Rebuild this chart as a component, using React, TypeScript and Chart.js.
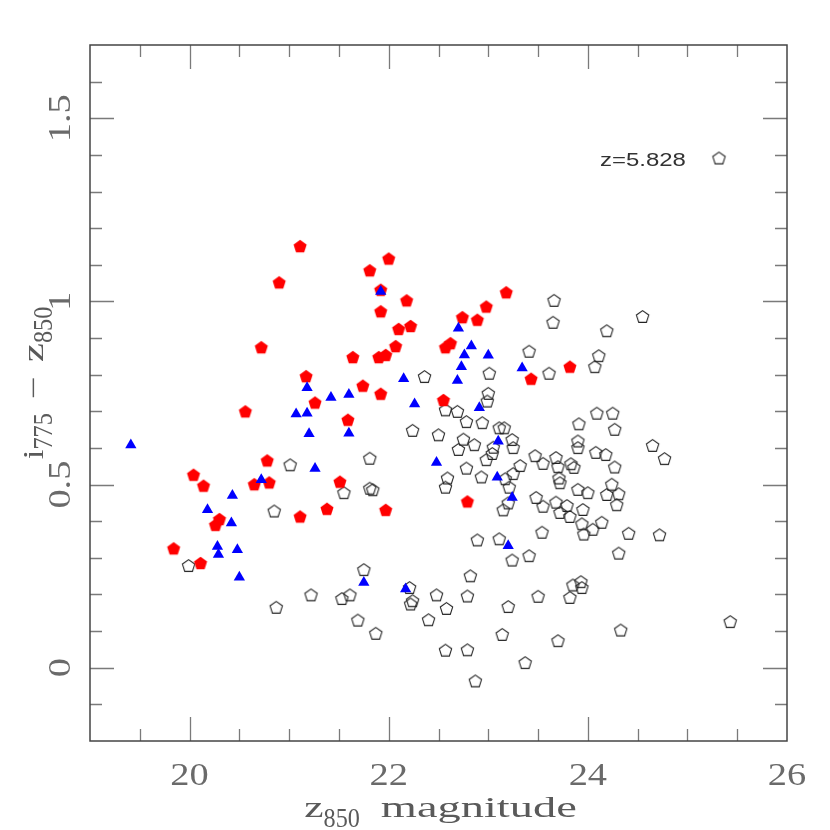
import React, { useEffect, useRef } from 'react';
import { Chart, registerables } from 'chart.js';

Chart.register(...registerables);

// ---- axis ranges & ticks ----
const X_MIN = 19;
const X_MAX = 26;
const Y_MIN = -0.2;
const Y_MAX = 1.7;
const xTickValues = [20, 22, 24, 26];
const xTickLabels = ['20', '22', '24', '26'];
const yTickValues = [0, 0.5, 1, 1.5];
const yTickLabels = ['0', '0.5', '1', '1.5'];
const legendLabel = 'z=5.828';

// ---- red filled pentagons ----
const redX = [21.11, 20.90, 20.72, 21.17, 21.26, 20.56, 20.78, 20.04, 20.14, 20.65, 20.80, 21.38, 21.11, 20.30, 20.26, 19.84, 20.11,
  22.00, 21.81, 21.92, 22.18, 21.92, 22.10, 22.22, 23.18, 22.98, 22.74, 22.89, 22.07, 22.62, 22.57, 21.64, 21.90, 21.97, 23.43, 21.74,
  21.92, 22.55, 21.59, 21.51, 21.97, 22.79, 23.82];
const redY = [1.151, 1.052, 0.875, 0.796, 0.724, 0.700, 0.566, 0.527, 0.497, 0.501, 0.506, 0.434, 0.413, 0.406, 0.390, 0.326, 0.286,
  1.117, 1.085, 1.032, 1.003, 0.973, 0.925, 0.933, 1.025, 0.986, 0.957, 0.950, 0.878, 0.886, 0.875, 0.848, 0.848, 0.854, 0.789, 0.770,
  0.748, 0.731, 0.677, 0.508, 0.431, 0.454, 0.822];

// ---- blue filled triangles ----
const blueX = [19.41, 21.18, 21.42, 21.07, 21.18, 21.20, 21.26, 20.72, 20.43, 20.18, 20.42, 20.28, 20.29, 20.48, 20.50, 21.92, 22.70,
  22.83, 22.76, 23.00, 22.73, 23.34, 22.15, 22.69, 21.60, 22.26, 22.91, 21.60, 23.10, 22.48, 23.09, 23.24, 23.20, 21.75, 22.17];
const blueY = [0.608, 0.764, 0.738, 0.693, 0.695, 0.639, 0.544, 0.513, 0.470, 0.431, 0.395, 0.331, 0.309, 0.322, 0.247, 1.027, 0.927,
  0.878, 0.854, 0.853, 0.822, 0.818, 0.789, 0.784, 0.746, 0.720, 0.710, 0.640, 0.618, 0.560, 0.520, 0.465, 0.333, 0.233, 0.215];

// ---- open pentagons (z=5.828) ----
const openX = [21.01, 20.85, 19.99, 21.22, 20.87, 23.66, 23.65, 23.41, 23.61, 23.01, 22.36, 23.00, 22.99, 22.57, 22.69, 22.78, 22.94,
  23.11, 23.16, 22.24, 22.50, 22.75, 22.86, 22.70, 23.05, 23.04, 22.98, 23.24, 23.25, 21.81, 22.78, 23.47, 23.55, 23.68, 23.32, 23.25,
  23.70, 22.59, 22.57, 22.93, 23.17, 23.21, 23.20, 23.15, 21.55, 21.81, 21.84, 22.89, 23.11, 23.24, 23.41, 23.54, 21.75, 21.61, 21.53,
  21.69, 21.87, 22.21, 22.24, 22.22, 22.48, 22.58, 22.40, 22.82, 22.79, 22.57, 22.79, 22.87, 23.20, 23.14, 23.50, 23.37, 23.70, 24.55,
  24.19, 24.11, 24.07, 24.09, 24.25, 24.27, 23.91, 23.90, 23.90, 24.08, 24.18, 24.65, 24.77, 24.27, 23.83, 23.86, 23.71, 23.72, 23.90,
  24.00, 24.24, 24.19, 24.31, 24.29, 23.48, 23.55, 23.68, 23.79, 23.72, 23.82, 23.95, 23.94, 23.96, 24.05, 24.14, 24.41, 24.72, 24.31,
  23.93, 23.85, 23.94, 23.82, 25.43, 24.33];
const openY = [0.554, 0.428, 0.279, 0.199, 0.165, 1.003, 0.943, 0.864, 0.804, 0.804, 0.795, 0.749, 0.728, 0.704, 0.700, 0.672, 0.669,
  0.655, 0.655, 0.648, 0.636, 0.624, 0.609, 0.596, 0.602, 0.585, 0.568, 0.623, 0.601, 0.572, 0.545, 0.579, 0.558, 0.574, 0.552, 0.530,
  0.549, 0.518, 0.493, 0.521, 0.516, 0.493, 0.450, 0.431, 0.478, 0.490, 0.486, 0.349, 0.352, 0.294, 0.306, 0.370, 0.268, 0.199, 0.189,
  0.130, 0.094, 0.219, 0.183, 0.174, 0.199, 0.162, 0.131, 0.251, 0.196, 0.048, 0.049, -0.036, 0.167, 0.091, 0.195, 0.014, 0.074, 0.959,
  0.920, 0.852, 0.822, 0.695, 0.695, 0.651, 0.666, 0.619, 0.601, 0.588, 0.582, 0.607, 0.571, 0.548, 0.557, 0.547, 0.518, 0.505, 0.487,
  0.478, 0.501, 0.473, 0.475, 0.445, 0.465, 0.441, 0.452, 0.443, 0.424, 0.413, 0.432, 0.393, 0.365, 0.378, 0.397, 0.367, 0.363, 0.313,
  0.235, 0.226, 0.219, 0.192, 0.126, 0.103];

const zip = (xs: number[], ys: number[]) => xs.map((x, i) => ({ x, y: ys[i] }));

function makePentagon(R: number, fill: string | null, stroke: string | null, lw: number): HTMLCanvasElement {
  const size = Math.ceil(2 * R + 6);
  const c = document.createElement('canvas');
  c.width = size;
  c.height = size;
  const g = c.getContext('2d')!;
  const cx = size / 2;
  const cy = size / 2 + R * 0.09;
  g.beginPath();
  for (let k = 0; k < 5; k++) {
    const a = -Math.PI / 2 + (k * 2 * Math.PI) / 5;
    const px = cx + R * Math.cos(a);
    const py = cy + R * Math.sin(a);
    if (k === 0) g.moveTo(px, py);
    else g.lineTo(px, py);
  }
  g.closePath();
  if (fill) {
    g.fillStyle = fill;
    g.fill();
  }
  if (stroke) {
    g.strokeStyle = stroke;
    g.lineWidth = lw;
    g.stroke();
  }
  return c;
}

type Seg = { text: string; size: number; sx: number; sy?: number; dy?: number; gap?: number; family?: string };

function drawRich(ctx: CanvasRenderingContext2D, segs: Seg[], x0: number, y0: number, rot: number) {
  let total = 0;
  const widths: number[] = [];
  for (const s of segs) {
    ctx.font = `${s.size}px ${s.family || '"Liberation Serif"'}`;
    const w = ctx.measureText(s.text).width * s.sx;
    widths.push(w);
    total += w + (s.gap || 0);
  }
  ctx.save();
  ctx.translate(x0, y0);
  ctx.rotate(rot);
  let cur = -total / 2;
  segs.forEach((s, i) => {
    ctx.save();
    ctx.translate(cur, s.dy || 0);
    ctx.scale(s.sx, s.sy || 1);
    ctx.font = `${s.size}px ${s.family || '"Liberation Serif"'}`;
    ctx.textBaseline = 'alphabetic';
    ctx.textAlign = 'left';
    ctx.fillText(s.text, 0, 0);
    ctx.restore();
    cur += widths[i] + (s.gap || 0);
  });
  ctx.restore();
}

export default function App() {
  const ref = useRef<HTMLCanvasElement | null>(null);

  useEffect(() => {
    if (!ref.current) return;
    const openPent = makePentagon(6.5, null, '#222', 1.1);
    const redPent = makePentagon(6.9, '#ff0000', null, 0);

    const framePlugin = {
      id: 'framePlugin',
      afterDatasetsDraw(chart: any) {
        const { ctx, chartArea: a, scales } = chart;
        const xs = scales.x;
        const ys = scales.y;
        ctx.save();
        // ticks
        ctx.strokeStyle = '#7a7a7a';
        ctx.lineWidth = 1.3;
        ctx.beginPath();
        for (let i = 1; i < 14; i++) {
          const v = X_MIN + i * 0.5;
          const px = Math.round(xs.getPixelForValue(v)) + 0.5;
          const len = v % 2 === 0 ? 24 : 12;
          ctx.moveTo(px, a.bottom);
          ctx.lineTo(px, a.bottom - len);
          ctx.moveTo(px, a.top);
          ctx.lineTo(px, a.top + len);
        }
        for (let i = -1; i <= 16; i++) {
          const v = i / 10;
          const py = Math.round(ys.getPixelForValue(v)) + 0.5;
          const len = i % 5 === 0 ? 24 : 12;
          ctx.moveTo(a.left, py);
          ctx.lineTo(a.left + len, py);
          ctx.moveTo(a.right, py);
          ctx.lineTo(a.right - len, py);
        }
        ctx.stroke();
        // frame
        ctx.strokeStyle = '#444';
        ctx.lineWidth = 1.5;
        ctx.strokeRect(a.left, a.top, a.right - a.left, a.bottom - a.top);

        // tick labels
        ctx.fillStyle = '#6a6a6a';
        xTickValues.forEach((v, i) => {
          drawRich(ctx, [{ text: xTickLabels[i], size: 32, sx: 1.2 }], xs.getPixelForValue(v), a.bottom + 44, 0);
        });
        yTickValues.forEach((v, i) => {
          drawRich(ctx, [{ text: yTickLabels[i], size: 32, sx: 1.2 }], a.left - 20, ys.getPixelForValue(v), -Math.PI / 2);
        });

        // axis titles
        ctx.fillStyle = '#5a5a5a';
        drawRich(
          ctx,
          [
            { text: 'z', size: 29, sx: 1.5 },
            { text: '850', size: 22, sx: 1.1, sy: 1.25, dy: 10, gap: 21 },
            { text: 'magnitude', size: 29, sx: 1.6 },
          ],
          (a.left + a.right) / 2 + 2,
          a.bottom + 76,
          0
        );
        drawRich(
          ctx,
          [
            { text: 'i', size: 29, sx: 1.2 },
            { text: '775', size: 22, sx: 1.1, sy: 1.25, dy: 9, gap: 14 },
            { text: '\u2212', size: 29, sx: 1.4, gap: 14 },
            { text: 'z', size: 29, sx: 1.5 },
            { text: '850', size: 22, sx: 1.1, sy: 1.25, dy: 9 },
          ],
          a.left - 47,
          383,
          -Math.PI / 2
        );

        // legend
        ctx.fillStyle = '#333';
        ctx.save();
        ctx.translate(600, 166);
        ctx.scale(1.33, 1);
        ctx.font = '18px "Liberation Sans"';
        ctx.textBaseline = 'alphabetic';
        ctx.textAlign = 'left';
        ctx.fillText(legendLabel, 0, 0);
        ctx.restore();
        ctx.drawImage(openPent, 719 - openPent.width / 2, 158 - openPent.height / 2);
        ctx.restore();
      },
    };

    const chart = new Chart(ref.current, {
      type: 'scatter',
      data: {
        datasets: [
          {
            label: 'blue',
            data: zip(blueX, blueY),
            pointStyle: 'triangle',
            pointRadius: 6.5,
            backgroundColor: '#0000ff',
            borderColor: '#0000ff',
            borderWidth: 0,
          },
          {
            label: 'red',
            data: zip(redX, redY),
            pointStyle: redPent as any,
            pointRadius: 7,
            backgroundColor: '#ff0000',
            borderWidth: 0,
          },
          {
            label: legendLabel,
            data: zip(openX, openY),
            pointStyle: openPent as any,
            pointRadius: 7,
            backgroundColor: 'rgba(0,0,0,0)',
            borderWidth: 0,
          },
        ],
      },
      options: {
        responsive: false,
        animation: false,
        devicePixelRatio: 1,
        events: [],
        layout: { padding: { left: 90, top: 45, right: 43, bottom: 89 } },
        plugins: { legend: { display: false }, tooltip: { enabled: false } },
        scales: {
          x: { type: 'linear', min: X_MIN, max: X_MAX, display: false },
          y: { type: 'linear', min: Y_MIN, max: Y_MAX, display: false },
        },
      },
      plugins: [framePlugin],
    });
    return () => chart.destroy();
  }, []);

  return (
    <div style={{ position: 'absolute', left: 0, top: 0, width: 830, height: 830, background: '#fff' }}>
      <canvas ref={ref} width={830} height={830} style={{ display: 'block', width: 830, height: 830 }} />
    </div>
  );
}
